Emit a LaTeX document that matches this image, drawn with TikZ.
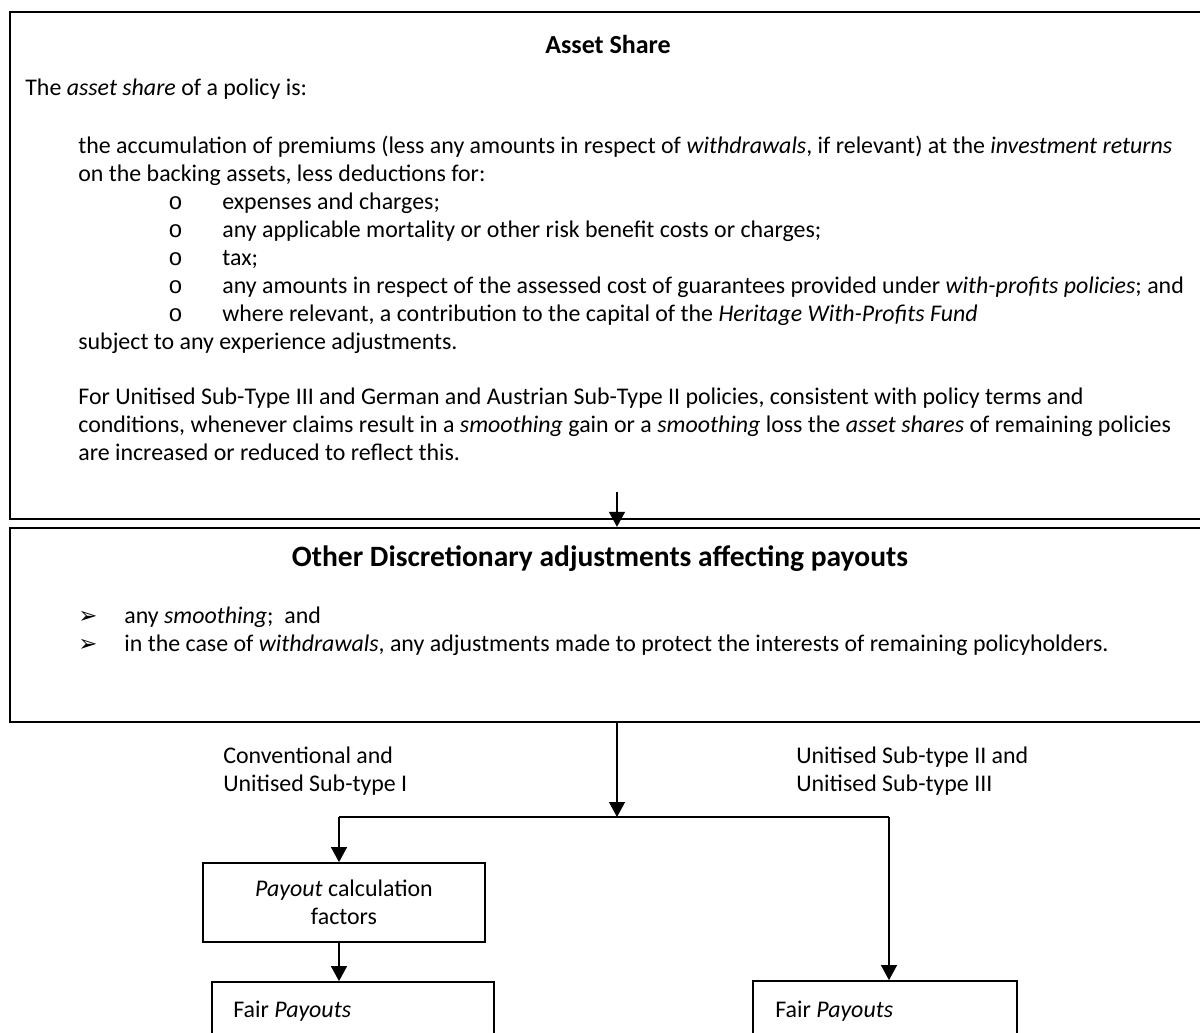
\documentclass[tikz,border=0pt]{standalone}
\usepackage{fontspec}
\setmainfont{Carlito}
\newfontfamily\arrowfont{DejaVu Sans}
\newfontfamily\ringfont{Liberation Mono}
\usetikzlibrary{arrows.meta, positioning, calc}

\newcommand{\ringitem}[1]{\hspace*{1.8cm}\makebox[1.08cm][l]{\ringfont o}#1}
\newcommand{\pointitem}[1]{\makebox[0.92cm][l]{\arrowfont\fontsize{13}{13}\selectfont ➢}#1}

\tikzset{
  panel/.style={draw, line width=1.3pt, inner sep=0pt},
  stepbox/.style={draw, line width=1pt, inner sep=0pt},
  flow/.style={-{Triangle[width=9pt,length=8.5pt]}, line width=0.9pt},
  bodytext/.style={font=\fontsize{13.6}{15.9}\selectfont, inner sep=0pt, align=left, anchor=north west},
}

\begin{document}
\begin{tikzpicture}[x=0.02cm, y=-0.02cm]
  \useasboundingbox (0,0) rectangle (1200,1032);
  \clip (0,0) rectangle (1200,1032);

  % Asset share panel
  \node[panel, minimum width=24.1cm, minimum height=10.14cm] (share) at (612.5,265.5) {};
  \node[font=\fontsize{14.8}{17}\selectfont\bfseries, inner sep=0pt] (sharehead) at (608,44) {Asset Share};
  \node[bodytext] (intro) at (25,79) {The \textit{asset share} of a policy is:};
  \node[bodytext] (accum) at (78,136) {
    the accumulation of premiums (less any amounts in respect of \textit{withdrawals}, if relevant) at the \textit{investment returns}\\
    on the backing assets, less deductions for:\\
    \ringitem{expenses and charges;}\\
    \ringitem{any applicable mortality or other risk benefit costs or charges;}\\
    \ringitem{tax;}\\
    \ringitem{any amounts in respect of the assessed cost of guarantees provided under \textit{with-profits policies}; and}\\
    \ringitem{where relevant, a contribution to the capital of the \textit{Heritage With-Profits Fund}}\\
    subject to any experience adjustments.
  };
  \node[bodytext] (unitised) at (78,388) {
    For Unitised Sub-Type III and German and Austrian Sub-Type II policies, consistent with policy terms and\\
    conditions, whenever claims result in a \textit{smoothing} gain or a \textit{smoothing} loss the \textit{asset shares} of remaining policies\\
    are increased or reduced to reflect this.
  };

  % Discretionary adjustments panel
  \node[panel, minimum width=24.1cm, minimum height=3.88cm] (adjust) at (612.5,625) {};
  \node[font=\fontsize{16.8}{19}\selectfont\bfseries, inner sep=0pt] (adjusthead) at (600,559) {Other Discretionary adjustments affecting payouts};
  \node[bodytext] (adjustlist) at (78,607) {
    \pointitem{any \textit{smoothing};\ \ and}\\
    \pointitem{in the case of \textit{withdrawals}, any adjustments made to protect the interests of remaining policyholders.}
  };

  % Branch labels
  \node[bodytext] (convlabel) at (223,747) {Conventional and\\Unitised Sub-type I};
  \node[bodytext] (unitlabel) at (796,747) {Unitised Sub-type II and\\Unitised Sub-type III};

  % Lower boxes
  \node[stepbox, minimum width=5.64cm, minimum height=1.58cm, align=center, font=\fontsize{13.6}{15.9}\selectfont] (calc) at (344,902.5) {\textit{Payout} calculation\\factors};
  \node[stepbox, minimum width=5.64cm, minimum height=1.6cm] (fairleft) at (353,1022) {};
  \node[stepbox, minimum width=5.28cm, minimum height=1.6cm] (fairright) at (885,1021) {};
  \node[bodytext] (fairlefttext) at (233,1001) {Fair \textit{Payouts}};
  \node[bodytext] (fairrighttext) at (775,1001) {Fair \textit{Payouts}};

  % Connectors
  \coordinate (drop) at (617,492);
  \coordinate (split) at (617,817);
  \draw[flow] (drop) -- (drop |- adjust.north);
  \draw[flow] (split |- adjust.south) -- (split);
  \draw[line width=0.9pt] (339,817) -- (889,817);
  \draw[flow] (339,817) -- (339,0 |- calc.north);
  \draw[flow] (889,817) -- (889,0 |- fairright.north);
  \draw[flow] (339,0 |- calc.south) -- (339,0 |- fairleft.north);
\end{tikzpicture}
\end{document}
